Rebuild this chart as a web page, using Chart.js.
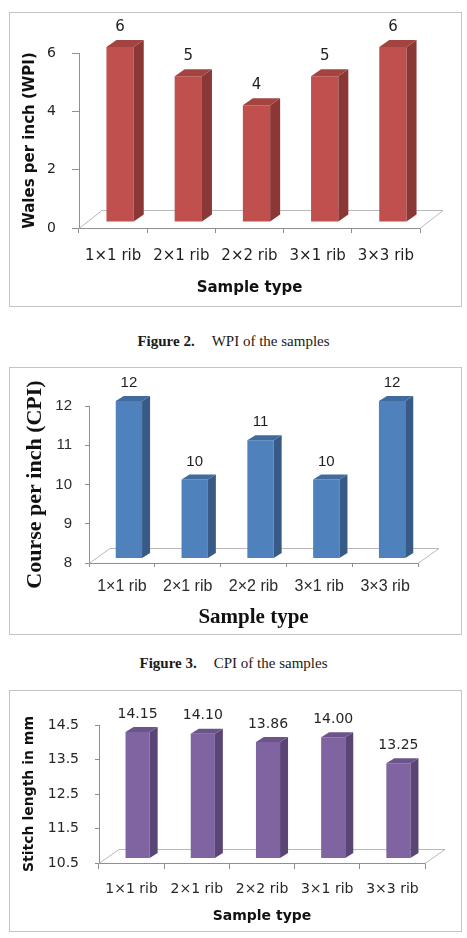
<!DOCTYPE html>
<html lang="en">
<head>
<meta charset="UTF-8">
<title>WPI, CPI and stitch length of the samples</title>
<script src="https://cdn.jsdelivr.net/npm/chart.js"></script>
<style>
body {
    margin: 0;
    background: #fff;
    width: 467px;
    height: 938px;
    position: relative;
    overflow: hidden;
}
/* boxes around each chart */
.box {
    position: absolute;
    left: 9px;
    border: 1px solid #c4c4c4;
}
.box canvas { display: block; }
.caption {
    position: absolute;
    left: 0;
    width: 467px;
    text-align: center;
    font-family: 'Liberation Serif', 'Times New Roman', serif;
    font-size: 15px;
    color: #1a1a1a;
    line-height: 18px;
}
.caption b { margin-right: 17px; }
</style>
</head>
<body>
<div class="box" style="top:12px"><canvas id="wpi" width="451" height="293"></canvas></div>
<div class="caption" style="top:332px"><b>Figure 2.</b>WPI of the samples</div>
<div class="box" style="top:367px"><canvas id="cpi" width="451" height="266"></canvas></div>
<div class="caption" style="top:654px"><b>Figure 3.</b>CPI of the samples</div>
<div class="box" style="top:690px"><canvas id="stitch" width="451" height="240"></canvas></div>

<script>
// data
const sampleTypes = ['1×1 rib', '2×1 rib', '2×2 rib', '3×1 rib', '3×3 rib'];
const wpiValues = [6, 5, 4, 5, 6];
const cpiValues = [12, 10, 11, 10, 12];
const stitchValues = [14.15, 14.10, 13.86, 14.00, 13.25];
const stitchLabels = ['14.15', '14.10', '13.86', '14.00', '13.25'];
const wpiAxis = [0, 6, 2];        // min, max, step
const cpiAxis = [8, 12, 1];
const stitchAxis = [10.5, 14.5, 1];

// fake 3D: floor, shifted front faces, side + top faces, value labels
const bars3d = {
    id: 'bars3d',
    beforeDatasetsDraw(chart, args, o) {
        const ctx = chart.ctx, a = chart.chartArea;
        ctx.save();
        ctx.strokeStyle = o.floorColor;
        ctx.lineWidth = 1;
        ctx.beginPath();
        ctx.moveTo(a.left, a.bottom + 0.5);
        ctx.lineTo(a.left + o.floor[0], a.bottom - o.floor[1] + 0.5);
        ctx.lineTo(a.right + o.floor[0], a.bottom - o.floor[1] + 0.5);
        ctx.lineTo(a.right, a.bottom + 0.5);
        ctx.stroke();
        ctx.restore();
        ctx.save();
        ctx.translate(o.shift[0], -o.shift[1]);
    },
    afterDatasetsDraw(chart, args, o) {
        const ctx = chart.ctx;
        const dx = o.depth[0], dy = o.depth[1];
        const vals = chart.data.datasets[0].data;
        const bottom = chart.chartArea.bottom;
        chart.getDatasetMeta(0).data.forEach((bar, i) => {
            const l = bar.x - bar.width / 2, r = bar.x + bar.width / 2;
            const base = Math.min(bar.base, bottom); // axis does not start at 0 on two charts
            ctx.fillStyle = o.side;
            ctx.beginPath();
            ctx.moveTo(r, bar.y);
            ctx.lineTo(r + dx, bar.y - dy);
            ctx.lineTo(r + dx, base - dy);
            ctx.lineTo(r, base);
            ctx.closePath();
            ctx.fill();
            ctx.fillStyle = o.top;
            ctx.beginPath();
            ctx.moveTo(l, bar.y);
            ctx.lineTo(l + dx, bar.y - dy);
            ctx.lineTo(r + dx, bar.y - dy);
            ctx.lineTo(r, bar.y);
            ctx.closePath();
            ctx.fill();
            ctx.fillStyle = o.labelColor;
            ctx.font = o.labelFont;
            ctx.textAlign = 'center';
            ctx.textBaseline = 'middle';
            ctx.fillText(o.labels ? o.labels[i] : String(vals[i]), bar.x, bar.y - o.labelGap);
        });
        ctx.restore();
    }
};

function makeChart(id, values, axis, c) {
    return new Chart(document.getElementById(id), {
        type: 'bar',
        data: {
            labels: sampleTypes,
            datasets: [{
                data: values,
                backgroundColor: c.front,
                barPercentage: c.barPct,
                categoryPercentage: 1
            }]
        },
        plugins: [bars3d],
        options: {
            responsive: false,
            animation: false,
            events: [],
            layout: { padding: { top: c.padTop, right: c.padRight, left: 0, bottom: 0 } },
            plugins: {
                legend: { display: false },
                tooltip: { enabled: false },
                bars3d: c.d3
            },
            scales: {
                x: {
                    afterFit: s => { s.height = c.xHeight; },
                    grid: { drawOnChartArea: false, drawTicks: true, tickLength: c.xTick, color: '#8f8f8f' },
                    border: { color: '#8f8f8f' },
                    ticks: { color: c.tickColor, font: c.catFont, padding: c.xPad, maxRotation: 0, autoSkip: false },
                    title: { display: true, text: 'Sample type', color: '#111', font: c.xTitleFont, padding: { top: 0, bottom: c.xTitlePad } }
                },
                y: {
                    min: axis[0],
                    max: axis[1],
                    afterFit: s => { s.width = c.yWidth; },
                    afterBuildTicks: s => {
                        s.ticks = [];
                        for (let v = axis[0]; v <= axis[1] + 1e-9; v += axis[2]) s.ticks.push({ value: v });
                    },
                    grid: { drawOnChartArea: false, drawTicks: true, tickLength: c.yTick, color: '#8f8f8f' },
                    border: { color: '#8f8f8f' },
                    ticks: {
                        color: c.tickColor, font: c.tickFont, padding: c.yPad,
                        callback: v => c.decimals ? Number(v).toFixed(c.decimals) : v
                    },
                    title: { display: true, text: c.yTitle, color: '#111', font: c.yTitleFont, padding: { top: c.yTitlePad, bottom: 0 } }
                }
            }
        }
    });
}

const dejavu = 'DejaVu Sans, Verdana, sans-serif';
const serif = 'Liberation Serif, Times New Roman, serif';
const sans = 'Liberation Sans, Arial, sans-serif';

makeChart('wpi', wpiValues, wpiAxis, {
    front: '#C0504D', barPct: 0.4,
    padTop: 40, padRight: 41, yWidth: 69, xHeight: 78,
    xTick: 5, yTick: 7, xPad: 14, yPad: 16,
    tickColor: '#1e1e1e',
    tickFont: { family: dejavu, size: 14 },
    catFont: { family: dejavu, size: 15 },
    xTitleFont: { family: dejavu, size: 15, weight: 'bold' }, xTitlePad: 9,
    yTitle: 'Wales per inch (WPI)',
    yTitleFont: { family: dejavu, size: 15, weight: 'bold' }, yTitlePad: 11,
    d3: {
        shift: [7, 6], depth: [10, 7], floor: [23, 18], floorColor: '#b8b8b8',
        side: '#8A3735', top: '#A34441',
        labelColor: '#1e1e1e', labelFont: '15px ' + dejavu, labelGap: 20
    }
});

makeChart('cpi', cpiValues, cpiAxis, {
    front: '#4F81BD', barPct: 0.4,
    padTop: 38, padRight: 43, yWidth: 79, xHeight: 71,
    xTick: 4, yTick: 4, xPad: 10, yPad: 13,
    tickColor: '#2b2b2b',
    tickFont: { family: sans, size: 15 },
    catFont: { family: sans, size: 16 },
    xTitleFont: { family: serif, size: 21, weight: 'bold' }, xTitlePad: 4,
    yTitle: 'Course per inch (CPI)',
    yTitleFont: { family: serif, size: 22, weight: 'bold' }, yTitlePad: 12,
    d3: {
        shift: [7, 5], depth: [8, 5], floor: [21, 15], floorColor: '#b8b8b8',
        side: '#375A86', top: '#3F6B9F',
        labelColor: '#1e1e1e', labelFont: '15px ' + sans, labelGap: 18
    }
});

makeChart('stitch', stitchValues, stitchAxis, {
    front: '#8064A2', barPct: 0.37, decimals: 1,
    padTop: 34, padRight: 36, yWidth: 89, xHeight: 68,
    xTick: 6, yTick: 4, xPad: 12, yPad: 16,
    tickColor: '#262626',
    tickFont: { family: dejavu, size: 14 },
    catFont: { family: dejavu, size: 14 },
    xTitleFont: { family: dejavu, size: 14, weight: 'bold' }, xTitlePad: 6,
    yTitle: 'Stitch length in mm',
    yTitleFont: { family: dejavu, size: 14, weight: 'bold' }, yTitlePad: 11,
    d3: {
        shift: [6, 5], depth: [8, 5], floor: [20, 14], floorColor: '#b8b8b8',
        side: '#5A4674', top: '#6B5489',
        labels: stitchLabels,
        labelColor: '#262626', labelFont: '14px ' + dejavu, labelGap: 18
    }
});
</script>
</body>
</html>
